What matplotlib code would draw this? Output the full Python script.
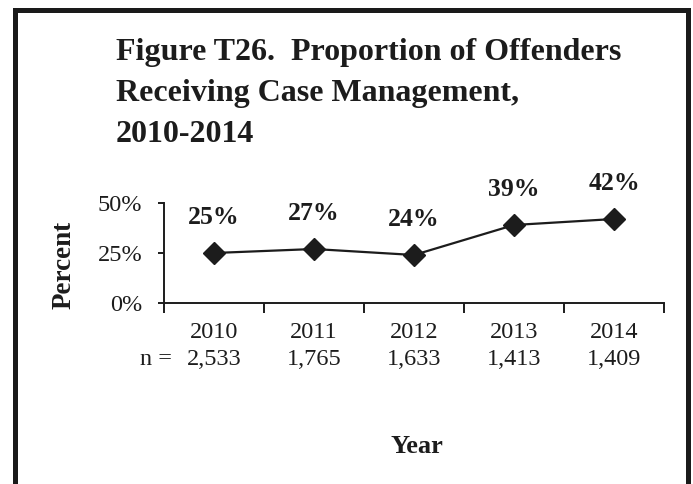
import matplotlib
matplotlib.use("Agg")
import matplotlib.pyplot as plt
from matplotlib.lines import Line2D
import numpy as np

# Data
years = ['2010', '2011', '2012', '2013', '2014']
n_values = ['2,533', '1,765', '1,633', '1,413', '1,409']
percent = [25, 27, 24, 39, 42]
title_lines = ['Figure T26.  Proportion of Offenders',
               'Receiving Case Management,',
               '2010-2014']

plt.rcParams['font.family'] = ['Liberation Serif', 'DejaVu Serif']
ink = '#1c1c1c'

W, H = 693, 484
fig = plt.figure(figsize=(W / 100, H / 100), dpi=100)
fig.patch.set_facecolor('white')

# axes placed in pixel terms
ax = fig.add_axes([164 / W, 1 - 303 / H, 500 / W, 100 / H])

x = np.arange(len(years))
ax.plot(x, percent, color=ink, lw=1.6, marker='D', ms=11,
        markerfacecolor=ink, markeredgecolor=ink, clip_on=False)

ax.set_xlim(-0.5, len(years) - 0.5)
ax.set_ylim(0, 50)
ax.set_yticks([0, 25, 50])
ax.set_yticklabels(['0%', '25%', '50%'])

# category boundaries get tick marks, labels sit at the centres
ax.set_xticks(x)
ax.set_xticklabels([])
ax.set_xticks(np.arange(-0.5, len(years)), minor=True)
ax.tick_params(axis='x', which='major', length=0)
ax.tick_params(axis='x', which='minor', length=7, width=1.4, color=ink, direction='out')
ax.tick_params(axis='y', length=4.5, width=1.4, color=ink, direction='out',
               pad=11, labelsize=17.5, labelcolor=ink)

for side in ['top', 'right']:
    ax.spines[side].set_visible(False)
for side in ['left', 'bottom']:
    ax.spines[side].set_linewidth(1.4)
    ax.spines[side].set_color(ink)

# value labels
for xi, v in zip(x, percent):
    ax.annotate(f'{v}%', (xi, v), xytext=(0, 21), textcoords='offset points',
                ha='center', va='baseline', fontsize=18.5, fontweight='bold', color=ink)

# years and n rows under the axis
for xi, yr, n in zip(x, years, n_values):
    ax.annotate(yr, (xi, 0), xycoords=('data', 'axes fraction'), xytext=(0, -21.5),
                textcoords='offset points', ha='center', va='center', fontsize=17.5, color=ink)
    ax.annotate(n, (xi, 0), xycoords=('data', 'axes fraction'), xytext=(0, -41),
                textcoords='offset points', ha='center', va='center', fontsize=17.5, color=ink)
ax.annotate('n =', (x[0], 0), xycoords=('data', 'axes fraction'), xytext=(-30, -41),
            textcoords='offset points', ha='right', va='center', fontsize=17.5, color=ink)

ax.annotate('Year', (0.5, 0), xycoords='axes fraction', xytext=(2, -103),
            textcoords='offset points', ha='center', va='center', fontsize=19,
            fontweight='bold', color=ink)

fig.text(64 / W, 1 - 265 / H, 'Percent', rotation=90, ha='center', va='center',
         fontsize=19.5, fontweight='bold', color=ink)

# title
for line, base in zip(title_lines, [60, 101, 142]):
    fig.text(116 / W, 1 - base / H, line, ha='left', va='baseline',
             fontsize=23, fontweight='bold', color=ink)

# frame around the figure (no bottom edge)
frame_kw = dict(color='#1a1a1a', lw=3.6, solid_capstyle='projecting')
fig.add_artist(Line2D([14.5 / W, 14.5 / W], [0, 1 - 9.5 / H], transform=fig.transFigure, **frame_kw))
fig.add_artist(Line2D([14.5 / W, 687.5 / W], [1 - 9.5 / H, 1 - 9.5 / H], transform=fig.transFigure, **frame_kw))
fig.add_artist(Line2D([687.5 / W, 687.5 / W], [0, 1 - 9.5 / H], transform=fig.transFigure, **frame_kw))

fig.savefig('out.png', dpi=100)
